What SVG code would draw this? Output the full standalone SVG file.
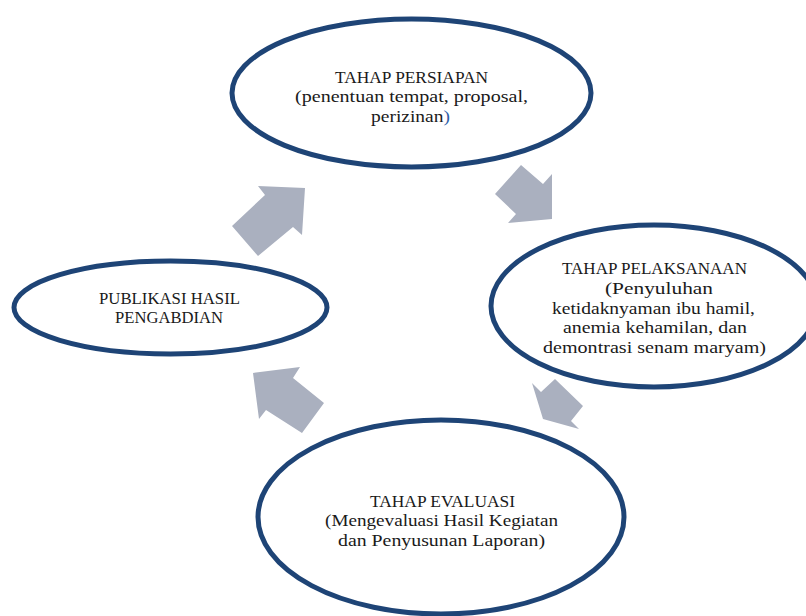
<svg xmlns="http://www.w3.org/2000/svg" width="806" height="616" viewBox="0 0 806 616">
<style>
.node ellipse{fill:#ffffff;stroke:#1e4476;stroke-width:5}
.arrow{fill:#aab0bf;stroke:none}
text{font-family:"Liberation Serif","Times New Roman",serif;font-size:17.5px;fill:#1a1a1a;text-anchor:middle}
</style>
<rect width="806" height="616" fill="#ffffff"/>
<g id="connectors">
<polygon class="arrow" points="521,165 543,184 552,174 552,219 508,223 516,214 495,194"/>
<polygon class="arrow" points="532,383 541,392 555,379 583,406 571,421 579,429 543,419"/>
<polygon class="arrow" points="253,373 300,367 293,378 324,403 302,433 266,410 259,419"/>
<polygon class="arrow" points="258,186 305,188 302,235 293,227 258,256 232,226 265,195"/>
</g>
<g id="node-persiapan" class="node">
<ellipse cx="411.5" cy="93" rx="179.5" ry="74"/>
<text x="411.5" y="83" textLength="153" lengthAdjust="spacingAndGlyphs">TAHAP PERSIAPAN</text>
<text x="411.5" y="102" textLength="233" lengthAdjust="spacingAndGlyphs">(penentuan tempat, proposal,</text>
<text x="410.5" y="121.5" textLength="79" lengthAdjust="spacingAndGlyphs">perizinan<tspan fill="#2e5fa8">)</tspan></text>
</g>
<g id="node-pelaksanaan" class="node">
<ellipse cx="654" cy="306" rx="163" ry="81"/>
<text x="654.5" y="274" textLength="185" lengthAdjust="spacingAndGlyphs">TAHAP PELAKSANAAN</text>
<text x="659" y="294" textLength="108" lengthAdjust="spacingAndGlyphs">(Penyuluhan</text>
<text x="653.5" y="313.5" textLength="203" lengthAdjust="spacingAndGlyphs">ketidaknyaman ibu hamil,</text>
<text x="655" y="333" textLength="184" lengthAdjust="spacingAndGlyphs">anemia kehamilan, dan</text>
<text x="654.5" y="352.5" textLength="223" lengthAdjust="spacingAndGlyphs">demontrasi senam maryam)</text>
</g>
<g id="node-evaluasi" class="node">
<ellipse cx="441" cy="517" rx="183" ry="97"/>
<text x="442.5" y="507" textLength="145" lengthAdjust="spacingAndGlyphs">TAHAP EVALUASI</text>
<text x="441.5" y="526" textLength="233" lengthAdjust="spacingAndGlyphs">(Mengevaluasi Hasil Kegiatan</text>
<text x="441.5" y="545.5" textLength="207" lengthAdjust="spacingAndGlyphs">dan Penyusunan Laporan)</text>
</g>
<g id="node-publikasi" class="node">
<ellipse cx="170.5" cy="307.5" rx="156.5" ry="46.5"/>
<text x="169.5" y="304" textLength="141" lengthAdjust="spacingAndGlyphs">PUBLIKASI HASIL</text>
<text x="169" y="323" textLength="108" lengthAdjust="spacingAndGlyphs">PENGABDIAN</text>
</g>
</svg>
